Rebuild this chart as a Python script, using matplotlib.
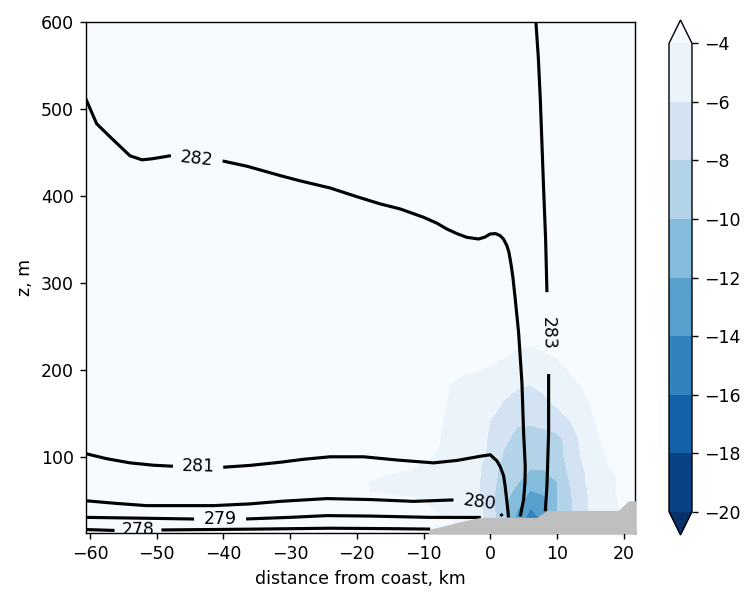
import numpy as np
import matplotlib
matplotlib.use("Agg")
import matplotlib.pyplot as plt

# ---------------------------------------------------------------------------
# Potential temperature isolines (K): distance from coast (km) and height (m)
# ---------------------------------------------------------------------------
th278_x = [-60.75, -56.5, -49.5, -42.0, -35.0, -24.0, -15.0, -9.0]
th278_z = [16.0, 15.0, 15.5, 16.0, 16.5, 17.5, 17.0, 16.5]

th279_x = [-60.75, -52.0, -44.5, -36.75, -30.0, -24.5, -18.0, -11.5, -9.0, -1.4]
th279_z = [30.0, 29.0, 28.1, 28.1, 30.0, 32.0, 31.5, 30.4, 30.0, 29.9]

th280_x = [-60.75, -56.0, -51.5, -41.5, -36.0, -31.5, -24.5, -18.0, -11.5, -5.75,
           -2.7, 0.0, 1.05, 1.8]
th280_z = [49.2, 46.0, 43.5, 43.5, 45.5, 48.4, 51.6, 50.5, 48.4, 50.0,
           48.8, 46.0, 40.6, 31.4]

th281_x = [-60.75, -57.5, -54.0, -50.5, -47.5, -40.0, -36.0, -31.5, -28.0, -24.0,
           -19.0, -14.0, -8.5, -5.0, -1.5, 0.0, 1.0, 1.5, 2.0, 2.25, 2.5, 2.75]
th281_z = [103.5, 97.5, 92.7, 90.0, 88.8, 87.7, 89.8, 93.4, 96.8, 99.7,
           99.7, 96.0, 92.7, 95.5, 100.3, 102.0, 95.0, 88.2, 78.0, 64.9, 48.0, 29.9]

th282_x = [-60.75, -59.0, -57.0, -54.0, -52.2, -50.7, -47.7, -44.0, -40.0, -36.5,
           -31.5, -28.5, -24.0, -20.0, -16.5, -13.5, -10.0, -8.0, -6.5, -5.0,
           -3.5, -1.75, -0.8, 0.0, 0.8, 1.5, 2.0, 2.5, 2.8, 3.1, 3.4, 3.75,
           4.25, 4.75, 5.0, 5.25, 5.2, 5.0, 4.5]
th282_z = [513.7, 482.9, 467.9, 446.0, 441.4, 442.6, 446.4, 443.0, 439.9, 434.1,
           423.3, 417.2, 409.0, 399.0, 390.7, 384.9, 375.3, 368.5, 361.8, 356.5,
           352.2, 350.3, 352.5, 356.1, 356.5, 354.1, 350.0, 342.6, 335.0, 322.0, 306.0, 281.1,
           242.7, 185.0, 127.3, 88.8, 70.0, 50.4, 31.1]

th283_x = [6.8, 7.2, 7.5, 8.0, 8.3, 8.5, 8.65, 8.75, 8.75, 8.6, 8.5, 8.25]
th283_z = [605.0, 560.0, 512.0, 408.0, 350.0, 289.0, 240.0, 195.0, 127.0, 90.0, 66.0, 37.0]

theta_values = [278, 279, 280, 281, 282, 283]
theta_x = [th278_x, th279_x, th280_x, th281_x, th282_x, th283_x]
theta_z = [th278_z, th279_z, th280_z, th281_z, th282_z, th283_z]

# inline label anchors (km, m) and half-width of the break cut into each line (pt)
label_x = [-52.8, -40.5, -1.6, -43.8, -44.0, 8.7]
label_z = [15.0, 28.5, 49.0, 89.6, 443.0, 242.0]
label_gap_pt = [13.5, 15.0, 15.0, 14.5, 15.0, 23.6]

# ---------------------------------------------------------------------------
# Shaded field near the coast
# ---------------------------------------------------------------------------
grid_x = [-20, -18, -16, -14, -12, -10, -8, -6, -4, -2, 0, 2, 4, 6, 8, 10, 12, 14, 16, 18, 20, 22]
grid_z = [10, 20, 30, 40, 50, 60, 70, 80, 90, 100, 120, 140, 160, 180, 200, 220, 240, 260]
field = [
    # z = 10
    [-3, -3, -3, -3, -3, -3, -3, -3, -4.8, -4.8, -6.8, -9.5, -13.0, -15.2, -13.5, -10.0, -8.0, -6.0, -5.0, -4.4, -3.8, -3.0],
    # z = 20
    [-3, -3, -3, -3, -3, -3, -3, -3, -4.8, -4.8, -6.8, -9.5, -13.0, -15.2, -13.5, -10.0, -8.0, -6.0, -5.0, -4.4, -3.8, -3.0],
    # z = 30
    [-3, -3, -3, -3, -3, -3, -3.8, -4.3, -5.0, -5.0, -7.0, -9.6, -12.5, -14.8, -13.5, -10.05, -8.2, -6.4, -5.0, -4.4, -3.8, -3.0],
    # z = 40
    [-3, -3, -3, -3, -3, -3.5, -4.3, -4.6, -5.2, -5.3, -7.2, -9.6, -11.8, -14.1, -13.0, -10.05, -8.3, -6.5, -5.2, -4.4, -3.8, -3.0],
    # z = 50
    [-3, -3, -3, -3.7, -3.8, -4.2, -4.5, -4.8, -5.3, -5.5, -7.3, -9.5, -11.0, -13.0, -12.4, -10.1, -8.3, -6.5, -5.2, -4.3, -3.8, -3.0],
    # z = 60
    [-3, -4.1, -4.3, -4.3, -4.4, -4.5, -4.6, -4.8, -5.3, -5.7, -7.3, -9.3, -10.4, -12.1, -11.7, -10.1, -8.1, -6.4, -5.1, -4.2, -3.7, -3.0],
    # z = 70
    [-3, -4.3, -4.6, -4.5, -4.6, -4.6, -4.5, -4.9, -5.3, -5.7, -7.1, -9.1, -9.9, -11.0, -10.8, -10.05, -7.9, -6.2, -5.0, -4.3, -3.7, -3.0],
    # z = 80
    [-3, -3, -3.8, -4.1, -4.3, -4.5, -4.4, -4.8, -5.2, -5.7, -6.9, -8.9, -9.6, -10.2, -10.2, -9.6, -7.6, -6.2, -5.0, -4.2, -3.6, -3.0],
    # z = 90
    [-3, -3, -3, -3.5, -3.7, -4.2, -4.2, -4.8, -5.2, -5.6, -7.0, -8.6, -9.3, -9.8, -9.8, -9.2, -7.4, -5.95, -4.8, -3.9, -3.3, -3.0],
    # z = 100
    [-3, -3, -3, -3, -3, -3.8, -4.1, -4.7, -5.2, -5.5, -6.3, -8.2, -9.0, -9.4, -9.4, -9.0, -7.1, -5.7, -4.6, -3.7, -3.2, -3.0],
    # z = 120
    [-3, -3, -3, -3, -3, -3, -3.8, -4.6, -5.0, -5.4, -6.2, -7.6, -8.5, -8.7, -8.6, -8.6, -7.2, -5.3, -4.2, -3.3, -3.0, -3.0],
    # z = 140
    [-3, -3, -3, -3, -3, -3, -3.6, -4.5, -4.8, -5.2, -6.05, -7.0, -7.8, -7.8, -7.6, -6.8, -6.05, -4.9, -3.9, -3.2, -3.0, -3.0],
    # z = 160
    [-3, -3, -3, -3, -3, -3, -3, -4.4, -4.6, -4.8, -5.3, -6.2, -6.8, -7.0, -6.5, -5.8, -5.3, -4.4, -3.6, -3.0, -3.0, -3.0],
    # z = 180
    [-3, -3, -3, -3, -3, -3, -3, -4.1, -4.3, -4.4, -4.6, -5.4, -5.9, -6.1, -5.7, -5.2, -4.5, -3.9, -3.2, -3.0, -3.0, -3.0],
    # z = 200
    [-3, -3, -3, -3, -3, -3, -3, -3.5, -3.9, -3.95, -4.1, -4.4, -5.0, -5.1, -4.9, -4.4, -3.9, -3.4, -3.0, -3.0, -3.0, -3.0],
    # z = 220
    [-3, -3, -3, -3, -3, -3, -3, -3, -3, -3.6, -3.7, -3.8, -4.1, -4.2, -4.05, -3.8, -3.5, -3.0, -3.0, -3.0, -3.0, -3.0],
    # z = 240
    [-3, -3, -3, -3, -3, -3, -3, -3, -3, -3, -3.0, -3.2, -3.7, -3.6, -3.5, -3.3, -3.0, -3.0, -3.0, -3.0, -3.0, -3.0],
    # z = 260
    [-3, -3, -3, -3, -3, -3, -3, -3, -3, -3, -3, -3, -3, -3, -3, -3, -3, -3, -3, -3, -3, -3],
]
shade_levels = [-20, -18, -16, -14, -12, -10, -8, -6, -4]

# terrain height along the section
terrain_x = [-9.3, -9.0, -5.0, -1.5, 7.0, 8.5, 19.2, 20.7, 22.0]
terrain_z = [12.0, 16.5, 24.0, 30.0, 30.0, 38.0, 38.0, 49.0, 49.0]

x_limits = (-60.6, 21.7)
z_limits = (12.0, 600.0)

# ---------------------------------------------------------------------------
fig = plt.figure(figsize=(6.0, 4.736), dpi=125)
ax = fig.add_axes([86 / 750, 59 / 592, 549 / 750, 511 / 592])
ax.set_xlim(*x_limits)
ax.set_ylim(*z_limits)

cmap = plt.get_cmap("Blues_r")
ax.set_facecolor(cmap(1.0))

cf = ax.contourf(grid_x, grid_z, np.array(field), levels=shade_levels,
                 cmap=cmap, extend="both", zorder=0)

# terrain
ax.fill_between(terrain_x, z_limits[0] - 10, terrain_z, color="0.75",
                linewidth=0, zorder=3)


def labelled_line(xs, zs, text, lx, lz, gap_pt):
    """Draw a polyline with a break and an inline label at (lx, lz)."""
    to_disp = ax.transData
    to_data = ax.transData.inverted()
    pts = to_disp.transform(np.column_stack([xs, zs]))
    seg = np.diff(pts, axis=0)
    s = np.concatenate([[0.0], np.cumsum(np.hypot(seg[:, 0], seg[:, 1]))])

    def at(sv):
        return np.array([np.interp(sv, s, pts[:, 0]), np.interp(sv, s, pts[:, 1])])

    ss = np.linspace(0, s[-1], 4000)
    dense = np.column_stack([np.interp(ss, s, pts[:, 0]), np.interp(ss, s, pts[:, 1])])
    target = to_disp.transform((lx, lz))
    s0 = ss[np.argmin(np.hypot(dense[:, 0] - target[0], dense[:, 1] - target[1]))]

    half = gap_pt * fig.dpi / 72.0
    a, b = at(s0 - 12), at(s0 + 12)
    ang = np.degrees(np.arctan2(b[1] - a[1], b[0] - a[0]))
    if ang > 90:
        ang -= 180
    elif ang < -90:
        ang += 180

    lo, hi = s0 - half, s0 + half
    pieces = []
    if lo > 0:
        pieces.append(np.vstack([pts[s < lo], at(lo)]))
    if hi < s[-1]:
        pieces.append(np.vstack([at(hi), pts[s > hi]]))
    for p in pieces:
        d = to_data.transform(p)
        ax.plot(d[:, 0], d[:, 1], color="black", linewidth=1.8,
                solid_capstyle="butt", solid_joinstyle="round", zorder=2)

    cx, cz = to_data.transform(at(s0))
    ax.text(cx, cz, text, rotation=ang, rotation_mode="anchor",
            ha="center", va="center", fontsize=10, color="black",
            clip_on=True, zorder=4)


for xs, zs, val, lx, lz, gp in zip(theta_x, theta_z, theta_values,
                                    label_x, label_z, label_gap_pt):
    labelled_line(xs, zs, str(val), lx, lz, gp)

ax.set_xticks([-60, -50, -40, -30, -20, -10, 0, 10, 20])
ax.set_yticks([100, 200, 300, 400, 500, 600])
ax.tick_params(labelsize=10)
ax.set_xlabel("distance from coast, km", fontsize=10)
ax.set_ylabel("z, m", fontsize=10)

cax = fig.add_axes([669 / 750, 57 / 592, 23 / 750, 515 / 592])
cb = fig.colorbar(cf, cax=cax, ticks=shade_levels)
cb.ax.tick_params(labelsize=10)

fig.savefig("out.png", dpi=125)
